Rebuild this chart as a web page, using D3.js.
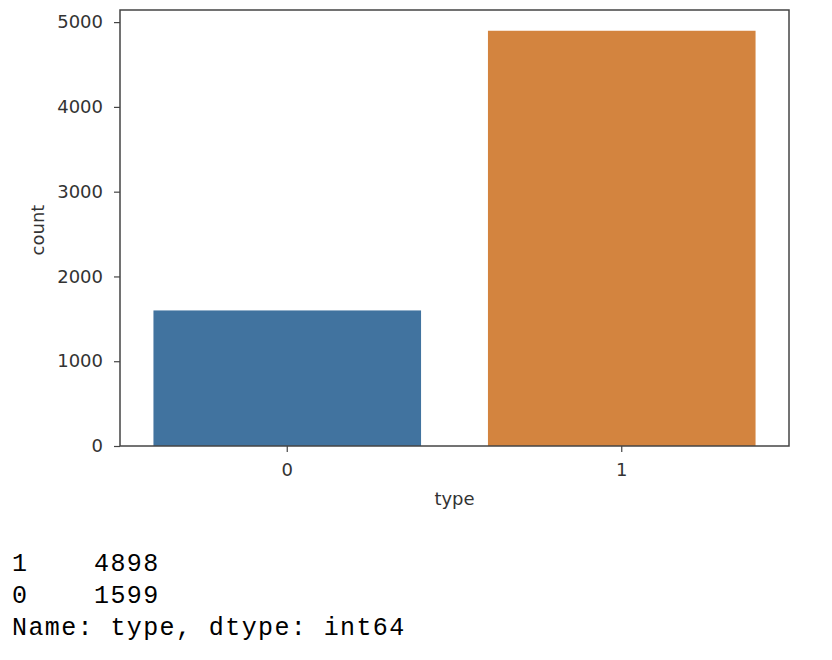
<!DOCTYPE html>
<html><head><meta charset="utf-8">
<script src="https://cdn.jsdelivr.net/npm/d3@7"></script>
<style>body{margin:0;background:#fff}svg{display:block}</style>
</head><body>
<script>
const categories = ["0", "1"];
const counts = [1599, 4898];
const colors = ["#41739f", "#d3843f"];
const yTicks = [0, 1000, 2000, 3000, 4000, 5000];
const outputLines = ["1    4898", "0    1599", "Name: type, dtype: int64"];

const W = 832, H = 660;
const m = {left: 120, right: 789, top: 10, bottom: 446};
const svg = d3.select("body").append("svg").attr("width", W).attr("height", H);

const x = d3.scaleBand().domain(categories).range([m.left, m.right]).paddingInner(0.2).paddingOuter(0.1);
const y = d3.scaleLinear().domain([0, d3.max(counts) * 1.05]).range([m.bottom, m.top]);

svg.selectAll("rect.bar").data(categories).enter().append("rect")
  .attr("class", "bar")
  .attr("x", d => x(d)).attr("width", x.bandwidth())
  .attr("y", (d, i) => y(counts[i])).attr("height", (d, i) => y(0) - y(counts[i]))
  .attr("fill", (d, i) => colors[i]);

const font = "DejaVu Sans, sans-serif";
const fs = 18;
const yAxis = svg.append("g").attr("transform", `translate(${m.left},0)`)
  .call(d3.axisLeft(y).tickValues(yTicks).tickFormat(d3.format("d")).tickSize(6).tickPadding(11));
const xAxis = svg.append("g").attr("transform", `translate(0,${m.bottom})`)
  .call(d3.axisBottom(x).tickSize(6).tickPadding(11));
[xAxis, yAxis].forEach(g => {
  g.select(".domain").remove();
  g.selectAll("line").attr("stroke", "#444").attr("stroke-width", 1.2);
  g.selectAll("text").attr("font-family", font).attr("font-size", fs).attr("fill", "#333");
});

svg.append("rect").attr("x", m.left).attr("y", m.top)
  .attr("width", m.right - m.left).attr("height", m.bottom - m.top)
  .attr("fill", "none").attr("stroke", "#444").attr("stroke-width", 1.5);

svg.append("text").attr("x", (m.left + m.right) / 2).attr("y", 505)
  .attr("text-anchor", "middle").attr("font-family", font).attr("font-size", fs).attr("fill", "#333").text("type");
svg.append("text").attr("transform", `translate(44,230) rotate(-90)`)
  .attr("text-anchor", "middle").attr("font-family", font).attr("font-size", fs).attr("fill", "#333").text("count");

svg.selectAll("text.out").data(outputLines).enter().append("text")
  .attr("class", "out")
  .attr("x", 12).attr("y", (d, i) => 571 + i * 32.2)
  .attr("font-family", "Liberation Mono, Courier New, monospace")
  .attr("font-size", 25).attr("letter-spacing", "1.4px").attr("fill", "#000")
  .attr("xml:space", "preserve").style("white-space", "pre")
  .text(d => d);
</script>
</body></html>
